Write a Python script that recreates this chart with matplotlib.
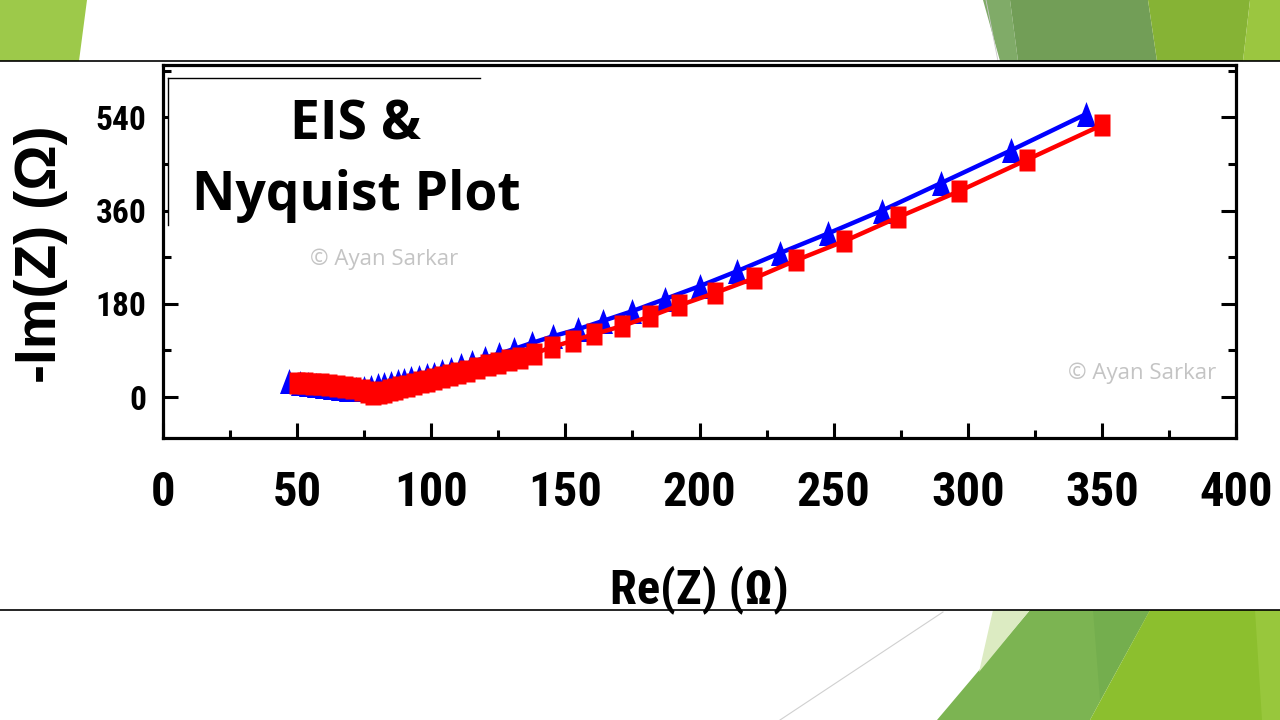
import matplotlib

matplotlib.use("Agg")

import matplotlib.pyplot as plt
from matplotlib import font_manager
from matplotlib.patches import Polygon
from matplotlib.ticker import MultipleLocator

# values (Re(Z), -Im(Z) in ohm)
blue_x = [47, 51, 54, 57, 60, 63, 66, 69, 72, 75, 77.5, 80, 82.5, 85, 87.5, 90,
          92.5, 95.5, 98.4, 101, 104, 107.2, 111, 115.2, 120, 125.4, 130.9, 137.7,
          145.5, 154.7, 164, 175, 187, 200, 214, 230, 248, 268, 290, 316, 344]
blue_y = [31, 28, 26, 24, 22, 20, 18, 16, 15, 17, 20, 23, 25.5, 28, 30.5, 33,
          36, 39, 42, 45, 49.5, 54.6, 61, 67.5, 75.8, 83.5, 93, 104.7,
          117.6, 131, 147, 166, 189, 214, 243, 278, 316, 360, 413, 476, 546]

red_x = [50, 53, 56, 59, 62, 65, 68, 71, 74, 76.5, 78.4, 80.5, 82.5, 84.5, 86.5,
         88.5, 91, 93.5, 96, 98.5, 101, 104, 107, 110, 113.5, 117, 121, 125, 129,
         133, 138.4, 144.9, 152.7, 160.8, 171, 181.7, 192.5, 205.6, 220.5, 236,
         254, 274, 296.6, 322, 350]
red_y = [28, 27, 26, 24.5, 23, 21, 19, 17, 14, 10, 5.5, 8, 10.5, 13, 16,
         18.5, 22, 25, 28.5, 31.5, 34.5, 38.5, 42.5, 46.5, 51, 55.5, 61, 66, 71,
         76, 84, 96.4, 108.6, 121.5, 137, 156, 177, 200.6, 229.5, 264,
         301, 347, 397, 458, 525]

x_ticks = [0, 50, 100, 150, 200, 250, 300, 350, 400]
y_ticks = [0, 180, 360, 540]

W, H = 1280, 720

# pick a narrow bold face if one is around, else shrink plain Arial-like text
installed = {f.name for f in font_manager.fontManager.ttflist}
narrow_names = [n for n in ["Liberation Sans Narrow", "Roboto Condensed",
                            "DejaVu Sans Condensed"] if n in installed]
if narrow_names:
    narrow = narrow_names + ["DejaVu Sans"]
    shrink = 1.0
else:
    narrow = ["Liberation Sans", "DejaVu Sans"]
    shrink = 0.84

fig = plt.figure(figsize=(12.8, 7.2), dpi=100)

# slide background in pixel coordinates
bg = fig.add_axes([0, 0, 1, 1], zorder=0)
bg.set_xlim(0, W)
bg.set_ylim(H, 0)
bg.axis("off")

shapes = [
    ([(0, 0), (87, 0), (79, 61), (0, 61)], "#9dc94a"),
    ([(983, 0), (1010, 0), (1018, 61), (1000, 61)], "#80ab68"),
    ([(1010, 0), (1148, 0), (1157, 61), (1018, 61)], "#729e57"),
    ([(1148, 0), (1250, 0), (1243, 61), (1157, 61)], "#86b335"),
    ([(1250, 0), (1280, 0), (1280, 61), (1243, 61)], "#9bc640"),
    ([(1030, 610), (1150, 610), (1090, 720), (937, 720)], "#7cb452"),
    ([(1093, 610), (1150, 610), (1100, 700)], "#74ae4e"),
    ([(993, 610), (1030, 610), (979, 672)], "#dcebc2"),
    ([(1150, 610), (1280, 610), (1280, 720), (1090, 720)], "#8cbf2e"),
    ([(1255, 610), (1280, 610), (1280, 720), (1262, 720)], "#98c73c"),
]
for pts, c in shapes:
    bg.add_patch(Polygon(pts, closed=True, fc=c, ec="none"))
bg.plot([943, 780], [612, 720], color="#d0d0d0", lw=0.8)
bg.plot([986, 998], [0, 61], color="#c8c8c8", lw=0.6)
bg.plot([0, W], [61, 61], color="black", lw=1.2)
bg.plot([0, W], [610, 610], color="black", lw=1.2)

# the chart
ax = fig.add_axes([163 / W, 1 - 438 / H, (1236 - 163) / W, (438 - 65) / H], zorder=1)
ax.set_facecolor("none")

tri = [(0, 1), (-0.76, -1), (0.76, -1)]
sq = [(-0.73, -1), (0.73, -1), (0.73, 1), (-0.73, 1)]

ax.plot(blue_x, blue_y, color="#0000ff", lw=3.2, marker=tri, ms=18,
        mec="none", mfc="#0000ff", zorder=3)
ax.plot(red_x, red_y, color="#ff0000", lw=3.2, marker=sq, ms=16,
        mec="none", mfc="#ff0000", zorder=4)

ax.set_xlim(0, 400)
ax.set_ylim(-79, 641)
ax.set_xticks(x_ticks)
ax.set_yticks(y_ticks)
ax.xaxis.set_minor_locator(MultipleLocator(25))
ax.yaxis.set_minor_locator(MultipleLocator(90))

for s in ax.spines.values():
    s.set_linewidth(2.3)

ax.tick_params(which="major", direction="in", length=11, width=2.2,
               left=True, right=True, bottom=True, top=False)
ax.tick_params(which="minor", direction="in", length=6, width=2.2,
               left=True, right=True, bottom=True, top=False)
ax.tick_params(axis="x", which="major", labelsize=35 * shrink, pad=23)
ax.tick_params(axis="y", which="major", labelsize=24 * shrink, pad=12)
for lbl in ax.get_xticklabels() + ax.get_yticklabels():
    lbl.set_fontfamily(narrow)
    lbl.set_fontweight("bold")

fig.text(41 / W, 1 - 254 / H, "-Im(Z) (Ω)", rotation=90, ha="center",
         va="center", fontsize=41, fontweight="bold",
         family=["Liberation Sans", "DejaVu Sans"])
fig.text(699 / W, 1 - 603 / H, "Re(Z) (Ω)", ha="center", va="baseline",
         fontsize=35 * shrink, fontweight="bold", family=narrow, zorder=3)

# title box overlay and watermarks
over = fig.add_axes([0, 0, 1, 1], zorder=5)
over.set_xlim(0, W)
over.set_ylim(H, 0)
over.axis("off")
over.add_patch(Polygon([(168, 78), (480, 78), (480, 225), (168, 225)],
                       closed=True, fc="white", ec="none"))
over.plot([168, 480], [78, 78], color="black", lw=1)
over.plot([168, 168], [78, 225], color="black", lw=1)
title_font = ["Open Sans", "DejaVu Sans"]
over.text(355, 140, "EIS &", ha="center", va="baseline", fontsize=38.5,
          fontweight="bold", family=title_font)
over.text(356, 210, "Nyquist Plot", ha="center", va="baseline", fontsize=38.5,
          fontweight="bold", family=title_font)
over.text(384, 259, "© Ayan Sarkar", ha="center", va="center", fontsize=16,
          color="#c4c4c4", family=["Open Sans", "DejaVu Sans"])
over.text(1142, 373, "© Ayan Sarkar", ha="center", va="center", fontsize=16,
          color="#c4c4c4", family=["Open Sans", "DejaVu Sans"])

fig.savefig("out.png", dpi=100)
